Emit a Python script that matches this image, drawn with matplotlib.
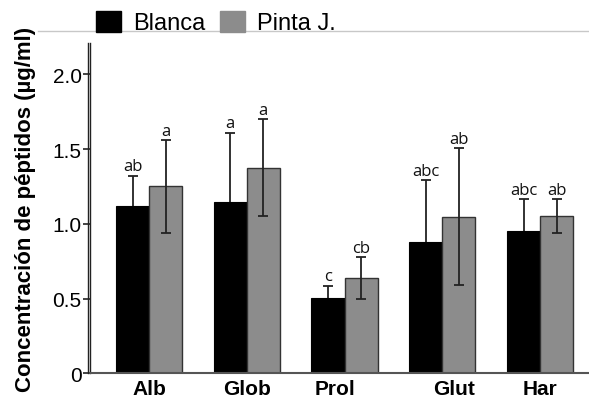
import matplotlib
matplotlib.use("Agg")
import matplotlib.pyplot as plt
import matplotlib.transforms as mtransforms
from matplotlib.lines import Line2D
from matplotlib.patches import Patch
import numpy as np

fractions = ["Alb", "Glob", "Prol", "Glut", "Har"]
blanca = [1.12, 1.145, 0.505, 0.88, 0.955]
blanca_err = [0.20, 0.465, 0.08, 0.41, 0.21]
pinta = [1.25, 1.375, 0.635, 1.047, 1.05]
pinta_err = [0.31, 0.325, 0.14, 0.457, 0.113]
blanca_lbl = ["ab", "a", "c", "abc", "abc"]
pinta_lbl = ["a", "a", "cb", "ab", "ab"]
yticks = [0, 0.5, 1.0, 1.5, 2.0]
ytick_labels = ["0", "0.5", "1.0", "1.5", "2.0"]

plt.rcParams["font.family"] = ["Liberation Sans", "DejaVu Sans"]

fig = plt.figure(figsize=(5.89, 4.02), dpi=100)
ax = fig.add_axes([0.1528, 0.069, 0.8472, 0.8216])

x = np.arange(len(fractions))
w = 0.338
ax.bar(x - w / 2, blanca, w, color="black", edgecolor="black", linewidth=0.8, zorder=2)
ax.bar(x + w / 2, pinta, w, color="#8c8c8c", edgecolor="#333333", linewidth=1.0, zorder=2)
# black bars' error drawn underneath so the lower half is hidden
ax.errorbar(x - w / 2, blanca, yerr=blanca_err, fmt="none", ecolor="#222222",
            elinewidth=1.3, capsize=3.5, capthick=1.3, zorder=1)
ax.errorbar(x + w / 2, pinta, yerr=pinta_err, fmt="none", ecolor="#222222",
            elinewidth=1.3, capsize=3.5, capthick=1.3, zorder=3)

# letters over the error bars
for xi, v, e, s in zip(x - w / 2, blanca, blanca_err, blanca_lbl):
    ax.annotate(s, (xi, v + e), xytext=(0, 4), textcoords="offset points",
                ha="center", va="baseline", fontsize=12, family="Open Sans", color="#111111")
for xi, v, e, s in zip(x + w / 2, pinta, pinta_err, pinta_lbl):
    ax.annotate(s, (xi, v + e), xytext=(0, 4), textcoords="offset points",
                ha="center", va="baseline", fontsize=12, family="Open Sans", color="#111111")

ax.set_xlim(-0.604, 4.501)
ax.set_ylim(0, 2.21)
ax.set_yticks(yticks)
ax.set_yticklabels(ytick_labels, fontsize=15)
ax.tick_params(axis="y", length=5, width=1.2, pad=1, color="#222222")
ax.set_xticks(x)
ax.set_xticklabels(fractions, fontsize=15, fontweight="bold")
ax.tick_params(axis="x", length=0, pad=4)
# hand placed labels in the original
shifts = [0, 0, -10, 12, 0]
for lab, dx in zip(ax.get_xticklabels(), shifts):
    lab.set_transform(lab.get_transform() + mtransforms.ScaledTranslation(dx / 100, 0, fig.dpi_scale_trans))

for side in ["top", "right"]:
    ax.spines[side].set_visible(False)
ax.spines["left"].set_linewidth(1.0)
ax.spines["left"].set_color("#222222")
ax.spines["bottom"].set_linewidth(1.5)
ax.spines["bottom"].set_color("#555555")
# second line of the doubled y axis
ax.plot([-0.005, -0.005], [0, 1], transform=ax.transAxes, color="#222222",
        linewidth=1.0, clip_on=False, zorder=5)

ax.set_ylabel("Concentración de péptidos (µg/ml)", fontsize=16, fontweight="bold")
ax.yaxis.set_label_coords(-0.108, 0.5)

fig.add_artist(Line2D([0.065, 1.0], [1 - 32 / 402, 1 - 32 / 402], transform=fig.transFigure,
                      color="#c8c8c8", linewidth=1.0, zorder=0))

handles = [Patch(facecolor="black", edgecolor="black", label="Blanca"),
           Patch(facecolor="#8c8c8c", edgecolor="#8c8c8c", label="Pinta J.")]
fig.legend(handles=handles, loc="upper left", bbox_to_anchor=(96 / 589, 1 - 12 / 402),
           ncol=2, frameon=False, fontsize=17, handlelength=1.06, handleheight=0.97,
           handletextpad=0.5, columnspacing=0.64, borderpad=0, borderaxespad=0)

fig.savefig("out.png", dpi=100)
